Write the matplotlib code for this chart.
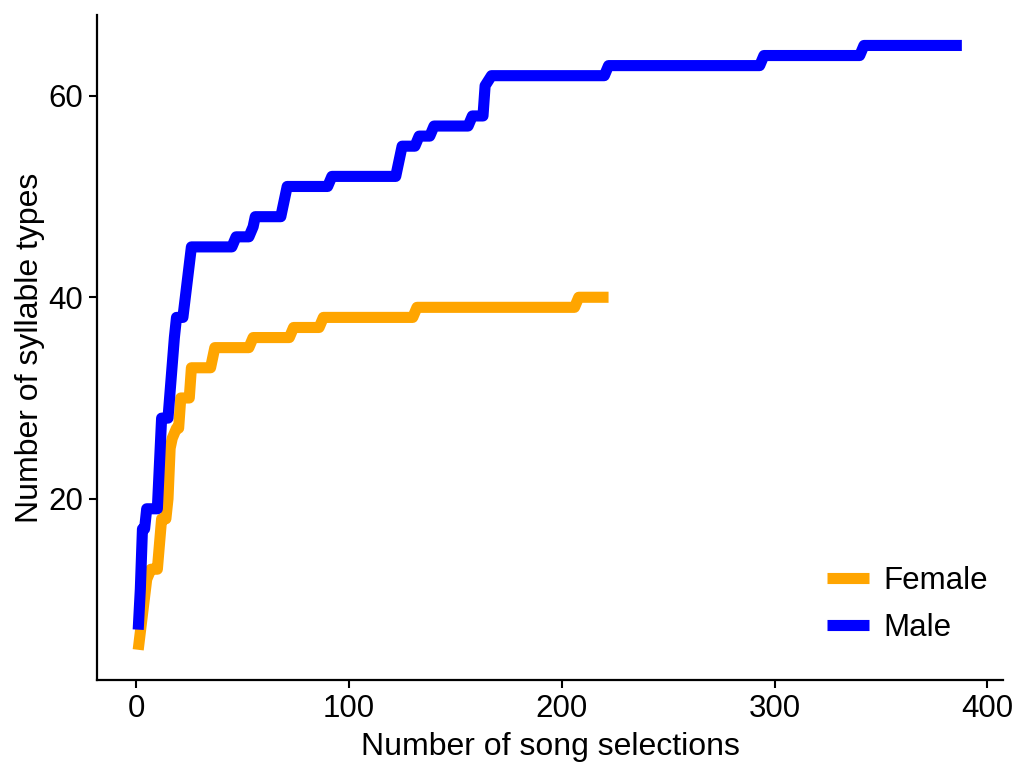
import matplotlib
matplotlib.use("Agg")
import matplotlib.pyplot as plt

# cumulative syllable types vs number of song selections
female_n = [1, 5, 7, 10, 12, 14, 15, 16, 17, 19, 20, 21, 25, 26, 35, 37, 53, 55,
            72, 74, 86, 88, 130, 132, 206, 208, 222]
female_types = [5, 12, 13, 13, 18, 18, 20, 25, 26, 27, 27, 30, 30, 33, 33, 35, 35, 36,
                36, 37, 37, 38, 38, 39, 39, 40, 40]

male_n = [1, 2, 3, 4, 5, 10, 12, 15, 18, 19, 22, 26, 45, 47, 53, 55, 56, 68, 70, 71,
          90, 92, 122, 123, 125, 131, 133, 138, 140, 156, 158, 163, 164, 167, 220,
          222, 293, 295, 340, 342, 388]
male_types = [7, 11, 17, 17, 19, 19, 28, 28, 36, 38, 38, 45, 45, 46, 46, 47, 48, 48, 50, 51,
              51, 52, 52, 53, 55, 55, 56, 56, 57, 57, 58, 58, 61, 62, 62,
              63, 63, 64, 64, 65, 65]

x_ticks = [0, 100, 200, 300, 400]
y_ticks = [20, 40, 60]

plt.rcParams['font.family'] = ['Liberation Sans', 'DejaVu Sans']

fig = plt.figure(figsize=(10.18, 7.62), dpi=100)
ax = fig.add_axes([0.0953, 0.1076, 0.89, 0.8724])

ax.plot(female_n, female_types, color="#FFA500", lw=8, solid_capstyle="butt",
        solid_joinstyle="round", label="Female")
ax.plot(male_n, male_types, color="#0000FF", lw=8, solid_capstyle="butt",
        solid_joinstyle="round", label="Male")

ax.set_xlim(-18.35, 407.35)
ax.set_ylim(2, 68)
ax.set_xticks(x_ticks)
ax.set_yticks(y_ticks)

for s in ["top", "right"]:
    ax.spines[s].set_visible(False)
for s in ["left", "bottom"]:
    ax.spines[s].set_linewidth(1.6)
ax.tick_params(direction="out", length=6, width=1.5, labelsize=22.5, colors="black", pad=4)

ax.set_xlabel("Number of song selections", fontsize=23, labelpad=6)
ax.set_ylabel("Number of syllable types", fontsize=23, labelpad=2)

ax.legend(loc="lower right", bbox_to_anchor=(1.014, 0.013), frameon=False, fontsize=22.5,
          handlelength=1.35, handletextpad=0.45, labelspacing=0.55)

fig.savefig("out.png", dpi=100)
